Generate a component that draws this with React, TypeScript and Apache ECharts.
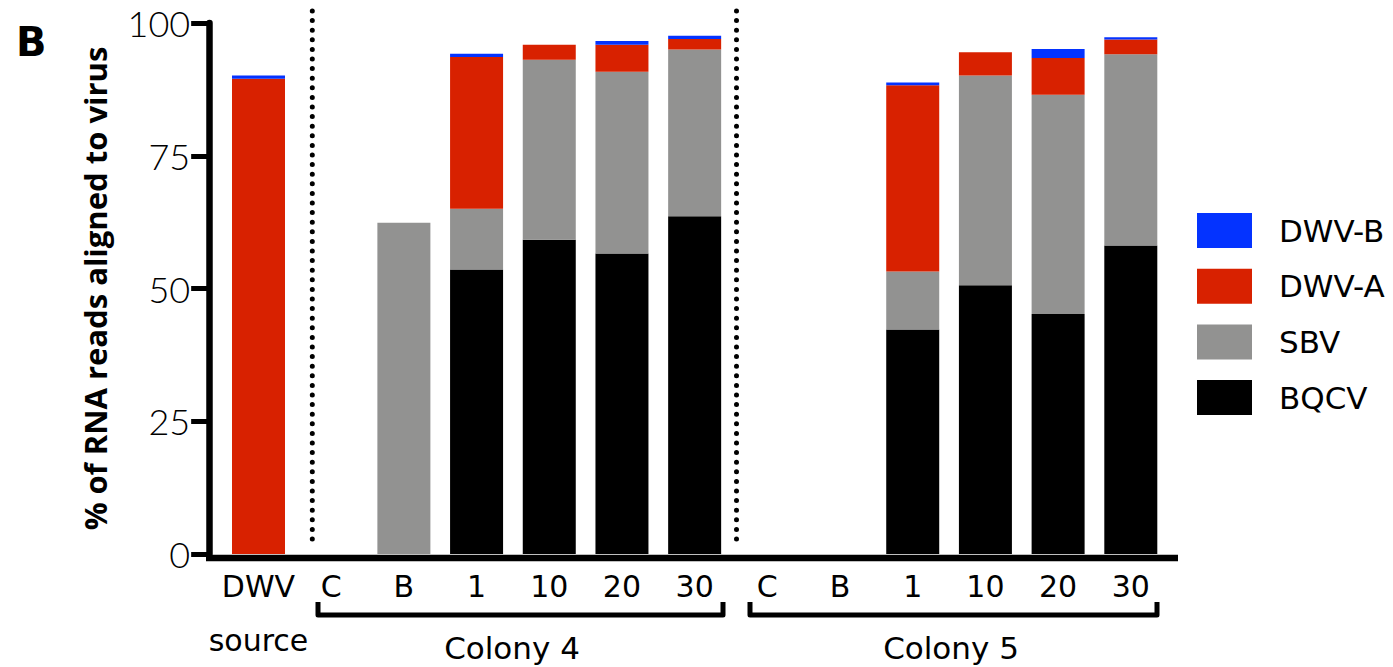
import React, { useEffect, useRef } from "react";
import * as echarts from "echarts";

const categories = ["DWV\nsource", "C", "B", "1", "10", "20", "30", "C", "B", "1", "10", "20", "30"];
const seriesNames = ["BQCV", "SBV", "DWV-A", "DWV-B"];
const bqcv = [0, 0, 0, 53.6, 59.2, 56.6, 63.6, 0, 0, 42.3, 50.6, 45.2, 58.1];
const sbv = [0, 0, 62.4, 11.4, 33.9, 34.2, 31.4, 0, 0, 10.9, 39.5, 41.3, 36.0];
const dwvA = [89.5, 0, 0, 28.6, 2.8, 5.1, 2.0, 0, 0, 35.1, 4.4, 6.9, 2.8];
const dwvB = [0.6, 0, 0, 0.6, 0, 0.7, 0.6, 0, 0, 0.5, 0, 1.7, 0.4];
const colors = ["#000000", "#929291", "#D82100", "#0433FF"];
const legendOrder = ["DWV-B", "DWV-A", "SBV", "BQCV"];
const groupLabels = ["Colony 4", "Colony 5"];

const SANS = "DejaVu Sans";

export default function App() {
  const ref = useRef<HTMLDivElement>(null);
  useEffect(() => {
    if (!ref.current) return;
    const chart = echarts.init(ref.current, null, { renderer: "svg" });
    const all = [bqcv, sbv, dwvA, dwvB];
    const series = all.map((arr, k) => ({
      name: seriesNames[k],
      type: "bar",
      stack: "total",
      barWidth: 53,
      itemStyle: { color: colors[k] },
      data: arr,
    }));
    const dotted = (x: number) => ({
      type: "line",
      shape: { x1: x, y1: 11, x2: x, y2: 546 },
      style: { stroke: "#000", lineWidth: 5, lineDash: [0, 9.6], lineCap: "round" },
      z: 100,
    });
    const bracket = (x1: number, x2: number) => ({
      type: "polyline",
      shape: { points: [[x1, 602], [x1, 615], [x2, 615], [x2, 602]] },
      style: { stroke: "#000", lineWidth: 5, fill: "none", lineJoin: "round" },
      z: 100,
    });
    const groupText = (x: number, text: string) => ({
      type: "text",
      x,
      y: 648,
      style: { text, fontSize: 31, fill: "#000", fontFamily: SANS, align: "center", verticalAlign: "middle" },
      z: 100,
    });
    chart.setOption({
      animation: false,
      grid: { left: 222.15, top: 23, width: 945, height: 534, containLabel: false },
      xAxis: {
        type: "category",
        data: categories,
        axisLine: { show: false },
        axisTick: { show: false },
        splitLine: { show: false },
        axisLabel: {
          interval: 0,
          fontSize: 30,
          lineHeight: 54,
          margin: 5,
          color: "#000",
          fontFamily: SANS,
        },
      },
      yAxis: {
        type: "value",
        min: 0,
        max: 100,
        interval: 25,
        offset: 13,
        name: "% of RNA reads aligned to virus",
        nameLocation: "middle",
        nameRotate: 90,
        nameGap: 99,
        nameTextStyle: { fontSize: 31, fontWeight: "bold", color: "#000", fontFamily: "Open Sans" },
        axisLine: { show: true, onZero: false, lineStyle: { color: "#000", width: 6.5 } },
        axisTick: { show: true, length: 18, lineStyle: { color: "#000", width: 5 } },
        splitLine: { show: false },
        axisLabel: {
          fontSize: 36,
          margin: 19,
          color: "#000",
          fontFamily: "Lato",
          fontWeight: 300,
        },
      },
      legend: {
        orient: "vertical",
        left: 1192,
        top: 208,
        itemWidth: 55,
        itemHeight: 35,
        itemGap: 20.7,
        icon: "rect",
        data: legendOrder,
        textStyle: { fontSize: 31, color: "#000", fontFamily: SANS, padding: [0, 0, 0, 22] },
      },
      graphic: [
        {
          type: "text",
          left: 16,
          top: 22,
          style: { text: "B", fontSize: 40, fontWeight: "bold", fill: "#000", fontFamily: SANS },
        },
        {
          type: "line",
          shape: { x1: 206, y1: 558, x2: 1178, y2: 558 },
          style: { stroke: "#000", lineWidth: 6.5 },
          z: 100,
        },
        dotted(312.3),
        dotted(736.5),
        bracket(318, 723),
        bracket(750, 1157),
        groupText(512, groupLabels[0]),
        groupText(951, groupLabels[1]),
      ],
      series,
    });
    return () => chart.dispose();
  }, []);
  return (
    <div
      ref={ref}
      style={{ position: "fixed", left: 0, top: 0, width: 1393, height: 667, background: "#fff" }}
    />
  );
}
